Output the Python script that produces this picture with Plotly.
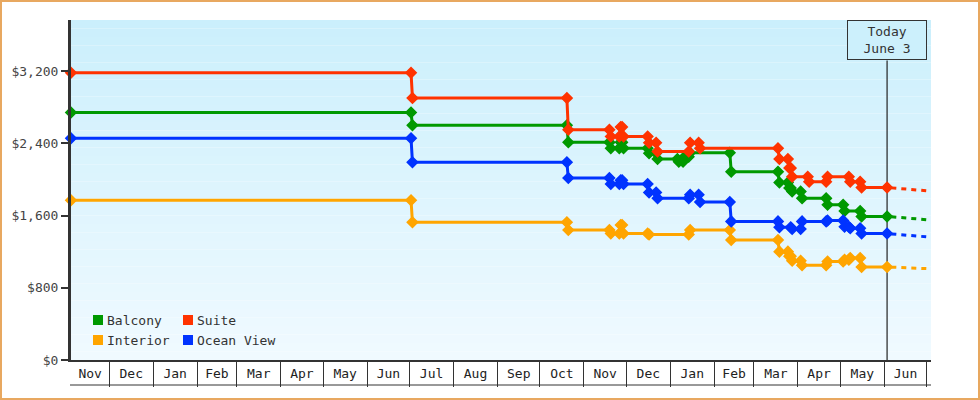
import plotly.graph_objects as go
import pandas as pd

# ---------------- data ----------------
axis_start = "2020-11-04"
today_date = "2022-06-03"
axis_end = "2022-07-04"

series_names = ["Balcony", "Suite", "Interior", "Ocean View"]
series_colors = ["#009900", "#ff3300", "#ffa500", "#0033ff"]

balcony_start = 2740
balcony_dates = ["2021-07-02", "2021-10-20", "2021-11-19", "2021-11-26", "2021-11-28",
                 "2021-12-16", "2021-12-22", "2022-01-06", "2022-01-10", "2022-01-14",
                 "2022-02-12", "2022-03-18", "2022-03-25", "2022-03-27", "2022-04-03",
                 "2022-04-21", "2022-05-03", "2022-05-15"]
balcony_prices = [2600, 2410, 2345, 2410, 2345,
                  2290, 2225, 2195, 2250, 2295,
                  2085, 1965, 1905, 1865, 1790,
                  1720, 1650, 1590]
balcony_projection = 1550

suite_start = 3180
suite_dates = ["2021-07-02", "2021-10-20", "2021-11-19", "2021-11-26", "2021-11-28",
               "2021-12-16", "2021-12-22", "2022-01-14", "2022-01-21",
               "2022-03-18", "2022-03-25", "2022-03-27", "2022-04-08",
               "2022-04-21", "2022-05-07", "2022-05-15"]
suite_prices = [2900, 2550, 2475, 2580, 2475,
                2405, 2310, 2405, 2345,
                2225, 2125, 2030, 1975,
                2030, 1975, 1910]
suite_projection = 1870

interior_start = 1770
interior_dates = ["2021-07-02", "2021-10-20", "2021-11-19", "2021-11-26", "2021-11-28",
                  "2021-12-16", "2022-01-14", "2022-02-12", "2022-03-18", "2022-03-25",
                  "2022-03-27", "2022-04-03", "2022-04-21", "2022-05-03", "2022-05-07",
                  "2022-05-15"]
interior_prices = [1525, 1440, 1400, 1495, 1400,
                   1390, 1440, 1330, 1200, 1150,
                   1100, 1050, 1090, 1110, 1130,
                   1030]
interior_projection = 1010

ocean_start = 2455
ocean_dates = ["2021-07-02", "2021-10-20", "2021-11-19", "2021-11-26", "2021-11-28",
               "2021-12-16", "2021-12-22", "2022-01-14", "2022-01-21", "2022-02-12",
               "2022-03-18", "2022-03-27", "2022-04-03", "2022-04-21", "2022-05-03",
               "2022-05-07", "2022-05-15"]
ocean_prices = [2190, 2015, 1950, 1990, 1950,
                1855, 1790, 1830, 1750, 1535,
                1470, 1450, 1535, 1545, 1475,
                1460, 1400]
ocean_projection = 1360

month_labels = ["Nov", "Dec", "Jan", "Feb", "Mar", "Apr", "May", "Jun", "Jul", "Aug",
                "Sep", "Oct", "Nov", "Dec", "Jan", "Feb", "Mar", "Apr", "May", "Jun"]

y_tick_values = [0, 800, 1600, 2400, 3200]
y_tick_labels = ["$0", "$800", "$1,600", "$2,400", "$3,200"]

today_label = "Today<br>June 3"

# ---------------- layout geometry ----------------
W, H = 980, 400
ML, MR, MT, MB = 71, 49, 20, 40
PW, PH = W - ML - MR, H - MT - MB
FONT = "DejaVu Sans Mono"
TXT = "#333333"


def px(xp):
    return (xp - ML) / PW


def py(yp):
    return (H - MB - yp) / PH


series = [
    (balcony_start, balcony_dates, balcony_prices, balcony_projection),
    (suite_start, suite_dates, suite_prices, suite_projection),
    (interior_start, interior_dates, interior_prices, interior_projection),
    (ocean_start, ocean_dates, ocean_prices, ocean_projection),
]

fig = go.Figure()

for name, color, (p0, dates, prices, proj) in zip(series_names, series_colors, series):
    xs = [pd.Timestamp(axis_start)]
    ys = [p0]
    prev = p0
    for d, p in zip(dates, prices):
        t = pd.Timestamp(d)
        xs += [t, t + pd.Timedelta(days=1)]
        ys += [prev, p]
        prev = p
    xs.append(pd.Timestamp(today_date))
    ys.append(prev)
    # projection (dashed)
    fig.add_trace(go.Scatter(
        x=[pd.Timestamp(today_date) + pd.Timedelta(days=3), pd.Timestamp(axis_end)],
        y=[prev - (prev - proj) * 3 / 31, proj],
        mode="lines", line=dict(color=color, width=3, dash="5px,5px"),
        showlegend=False, hoverinfo="skip", cliponaxis=False))
    fig.add_trace(go.Scatter(
        x=xs, y=ys, mode="lines+markers", name=name,
        line=dict(color=color, width=3),
        marker=dict(symbol="diamond", size=8, color=color, line=dict(color=color, width=1.5)),
        showlegend=False, cliponaxis=False))

shapes = []
# gradient background
n = 40
top = (203, 239, 252)
bot = (240, 250, 255)
for i in range(n):
    f = (i + 0.5) / n
    c = tuple(round(bot[k] + (top[k] - bot[k]) * f) for k in range(3))
    shapes.append(dict(type="rect", xref="paper", yref="paper",
                       x0=0, x1=1, y0=i / n, y1=(i + 1) / n,
                       fillcolor="rgb(%d,%d,%d)" % c, line=dict(width=0), layer="below"))
# today line
shapes.append(dict(type="line", xref="x", yref="paper", x0=today_date, x1=today_date,
                   y0=0, y1=py(60.5), line=dict(color="#222222", width=1.2), layer="below"))
# bottom line of month boxes
shapes.append(dict(type="line", xref="paper", yref="paper", x0=px(70), x1=1,
                   y0=py(385), y1=py(385), line=dict(color=TXT, width=1)))
# outer border
shapes.append(dict(type="rect", xref="paper", yref="paper",
                   x0=px(1), x1=px(W - 1), y0=py(H - 1), y1=py(1),
                   line=dict(color="#e8a860", width=2), fillcolor="rgba(0,0,0,0)"))

annotations = []
# legend (2 columns)
for i, (name, color) in enumerate(zip(series_names, series_colors)):
    col, row = i % 2, i // 2
    sx = 93 + col * 90
    cy = 320 + row * 20
    shapes.append(dict(type="rect", xref="paper", yref="paper",
                       x0=px(sx), x1=px(sx + 10), y0=py(cy + 5), y1=py(cy - 5),
                       fillcolor=color, line=dict(width=0)))
    annotations.append(dict(xref="paper", yref="paper", x=px(sx + 12), y=py(cy),
                            xanchor="left", yanchor="middle", text=name, showarrow=False,
                            font=dict(family=FONT, size=13, color=TXT)))
# today box
annotations.append(dict(xref="x", yref="paper", x=today_date, y=1, xanchor="center",
                        yanchor="top", text=today_label, showarrow=False,
                        width=76, height=36, borderpad=1, borderwidth=1, bordercolor=TXT,
                        bgcolor="rgb(204,240,252)", align="center",
                        font=dict(family=FONT, size=13, color=TXT)))

# month ticks at box centres
month_starts = list(pd.date_range("2020-12-01", "2022-07-01", freq="MS"))
edges = [pd.Timestamp(axis_start)] + month_starts + [pd.Timestamp(axis_end)]
mids = [edges[i] + (edges[i + 1] - edges[i]) / 2 for i in range(len(month_labels))]

fig.update_layout(
    width=W, height=H,
    margin=dict(l=ML, r=MR, t=MT, b=MB),
    paper_bgcolor="white", plot_bgcolor="rgba(0,0,0,0)",
    showlegend=False,
    shapes=shapes, annotations=annotations,
    xaxis=dict(type="date", range=[axis_start, axis_end], tickmode="array",
               tickvals=mids, ticktext=month_labels, ticks="", showgrid=False,
               zeroline=False, showline=True, linecolor=TXT, linewidth=2,
               tickfont=dict(family=FONT, size=13, color="#222222"),
               minor=dict(ticks="outside", ticklen=25, tickcolor=TXT, tickwidth=1,
                          tickmode="array", tickvals=month_starts, showgrid=False)),
    yaxis=dict(range=[0, 3765], tickmode="array", tickvals=y_tick_values,
               ticktext=y_tick_labels, ticks="outside", ticklen=7, tickwidth=2,
               tickcolor=TXT, showgrid=False, zeroline=False, showline=True,
               linecolor=TXT, linewidth=3,
               tickfont=dict(family=FONT, size=13, color="#444444")),
)

fig.write_html("out.html")
